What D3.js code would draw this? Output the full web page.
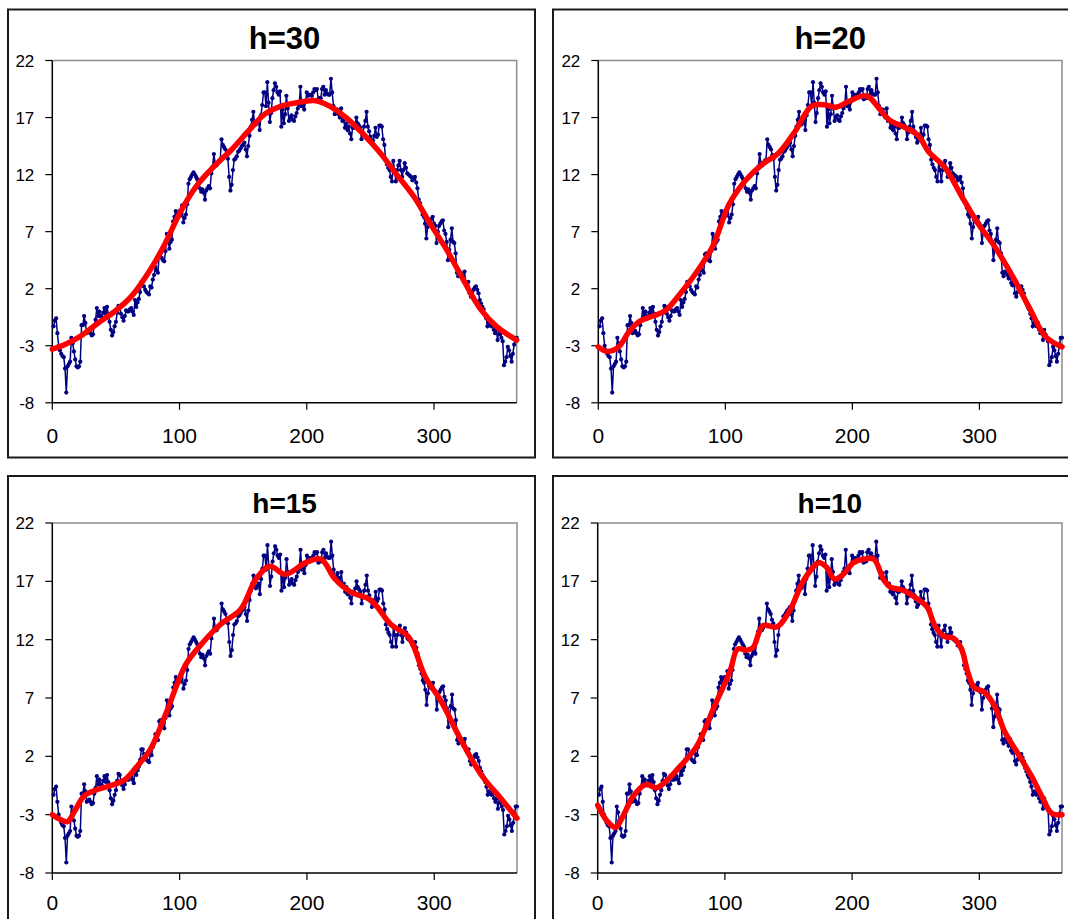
<!DOCTYPE html>
<meta charset="utf-8">
<style>
body { margin: 0; background: #fff; }
svg { display: block; font-family: Arial, 'Liberation Sans', sans-serif; }
.frame { fill: none; stroke: #1a1a1a; stroke-width: 2; }
.plot-border { fill: none; stroke: #8c8c8c; stroke-width: 1.5; }
.axis-line { stroke: #000; stroke-width: 1.5; }
.tick { stroke: #000; stroke-width: 1.2; }
.raw { fill: none; stroke: #000080; stroke-width: 1.5; }
.dot { fill: #000080; }
.smooth { fill: none; stroke: #ff0000; stroke-width: 5.5; stroke-linejoin: round; stroke-linecap: round; }
</style>
<body>
<script src="https://d3js.org/d3.v7.min.js"></script>
<script>
// daily values, day 1..365
var days = d3.range(1, 366)
var temps = [
 -1.3, -0.8, -0.6, -1.9, -3.0, -3.4, -3.7, -3.9, -4.0, -5.0,
 -7.1, -4.8, -4.6, -4.4, -2.3, -2.8, -3.5, -4.2, -4.8, -4.9,
 -4.8, -4.4, -1.2, -1.2, -0.4, -1.0, -1.9, -1.8, -1.7, -1.9,
 -2.1, -2.0, -1.2, -0.7, 0.3, -0.4, 0.0, -0.4, -0.5, -0.1,
 0.3, -0.2, 0.4, -0.2, -0.9, -1.6, -2.1, -1.8, -1.3, -0.9,
 -0.1, 0.5, 0.4, -0.2, -0.5, -0.8, -0.4, 0.1, 0.0, 0.0,
 0.2, 0.3, 0.0, -0.3, 1.0, 0.4, 0.8, 1.1, 1.7, 2.6,
 2.6, 2.2, 1.9, 1.7, 1.6, 1.5, 2.2, 2.1, 2.8, 3.2,
 3.9, 3.6, 3.4, 5.0, 5.1, 4.7, 4.5, 4.4, 5.3, 6.8,
 6.3, 5.5, 6.1, 6.3, 7.9, 8.3, 8.8, 8.2, 8.6, 8.8,
 8.4, 9.3, 7.8, 8.2, 8.5, 9.4, 11.2, 11.6, 11.8, 12.0,
 12.2, 12.0, 11.8, 11.6, 11.4, 10.8, 10.5, 10.7, 10.4, 9.8,
 10.6, 10.8, 11.0, 10.8, 12.1, 12.7, 13.8, 13.0, 12.8, 13.0,
 13.2, 13.3, 15.1, 14.6, 14.4, 14.2, 13.7, 13.4, 11.8, 10.6,
 11.1, 12.4, 13.3, 13.4, 13.6, 14.0, 14.1, 14.3, 14.5, 14.6,
 14.8, 14.2, 13.6, 14.5, 15.4, 16.2, 16.8, 17.5, 16.5, 16.4,
 16.6, 16.8, 15.9, 17.2, 18.1, 19.2, 19.2, 18.0, 20.1, 18.3,
 16.6, 17.4, 18.7, 19.4, 20.0, 19.7, 19.2, 19.0, 19.3, 16.2,
 17.7, 16.5, 17.3, 18.9, 17.8, 16.7, 17.0, 17.2, 16.8, 16.7,
 17.1, 17.4, 17.8, 18.1, 19.7, 18.0, 18.1, 17.7, 18.4, 19.2,
 18.9, 19.0, 19.0, 18.9, 19.2, 19.5, 19.4, 19.5, 18.6, 18.7,
 18.7, 19.5, 19.7, 19.0, 19.4, 19.1, 19.0, 19.0, 20.4, 19.2,
 18.0, 17.3, 17.4, 17.7, 17.3, 17.0, 17.8, 16.7, 16.8, 16.1,
 16.5, 15.9, 16.2, 15.6, 15.1, 16.1, 16.1, 16.4, 17.0, 16.5,
 16.3, 16.1, 15.1, 15.7, 16.2, 16.7, 17.5, 16.2, 15.8, 15.3,
 14.8, 15.0, 15.4, 16.1, 15.3, 15.5, 16.3, 16.3, 16.2, 15.1,
 14.6, 13.3, 12.9, 12.6, 12.4, 11.8, 11.4, 13.2, 12.4, 11.4,
 12.4, 12.8, 13.2, 12.4, 11.8, 12.4, 13.0, 12.6, 12.1, 12.0,
 11.9, 11.8, 11.5, 11.6, 11.8, 11.3, 10.8, 9.8, 9.5, 9.1,
 8.5, 8.3, 7.7, 6.4, 7.4, 8.0, 7.9, 8.1, 8.3, 7.7,
 7.5, 6.0, 7.0, 7.5, 7.7, 7.9, 8.0, 7.1, 6.8, 6.1,
 4.5, 5.4, 6.3, 7.3, 6.1, 6.0, 5.1, 3.4, 3.1, 3.5,
 3.4, 3.2, 2.9, 3.5, 2.5, 2.3, 2.6, 1.6, 1.3, 1.7,
 1.9, 2.1, 2.2, 1.9, 1.6, 1.0, 0.7, 0.4, 0.2, -0.2,
 -0.6, -1.3, -1.0, -1.2, -1.3, -1.0, -1.6, -1.9, -1.6, -2.5,
 -1.6, -2.0, -2.3, -2.6, -4.7, -4.4, -4.0, -3.1, -3.4, -3.9,
 -4.4, -3.7, -2.9, -2.3, -2.3
]

// smoothed curves: [day, value]
var smoothH30 = [[0,-3.3],[10,-2.9],[23,-2.1],[36,-1.0],[49,0.0],[62,1.3],[75,3.3],[88,5.8],[101,8.8],[114,11.1],[127,12.7],[141,14.2],[154,15.8],[167,17.3],[180,18.0],[192,18.3],[205,18.5],[210,18.4],[218,18.0],[231,17.0],[244,15.6],[257,14.0],[270,12.1],[284,10.1],[297,7.7],[310,5.4],[323,2.8],[336,0.3],[349,-1.3],[365,-2.5]]
var smoothH20 = [[0,-3.1],[7,-3.5],[16,-3.1],[24,-1.8],[32,-0.9],[43,-0.4],[53,0.1],[64,1.5],[77,3.4],[90,5.7],[103,9.4],[116,11.5],[129,12.9],[142,13.9],[155,15.8],[168,18.0],[179,18.1],[187,17.9],[197,18.4],[208,18.9],[213,18.8],[221,17.8],[229,16.8],[242,16.1],[252,15.4],[260,14.0],[273,12.6],[286,10.1],[299,7.7],[312,5.7],[326,3.1],[339,0.4],[352,-2.2],[365,-3.1]]
var smoothH15 = [[0,-3.0],[6,-3.4],[12,-3.6],[18,-2.6],[25,-1.4],[34,-0.9],[46,-0.5],[57,0.0],[67,1.2],[77,2.6],[89,5.6],[105,9.9],[117,11.6],[132,13.3],[148,14.6],[160,17.2],[171,18.3],[183,17.6],[199,18.6],[211,18.9],[222,17.2],[234,16.1],[250,15.4],[266,13.3],[280,12.2],[293,8.8],[305,6.8],[321,3.4],[337,0.4],[353,-1.7],[365,-3.3]]
var smoothH10 = [[0,-2.2],[7,-3.5],[14,-4.1],[20,-3.1],[28,-1.4],[38,-0.4],[46,-0.7],[54,-0.1],[64,1.05],[78,2.9],[91,6.1],[104,9.3],[110,11.2],[117,11.1],[122,11.3],[130,13.2],[141,13.1],[151,14.5],[162,17.1],[174,18.6],[180,18.2],[186,17.2],[193,17.6],[201,18.6],[209,18.9],[217,18.9],[225,17.1],[230,16.5],[241,16.2],[251,15.5],[259,14.8],[265,13.2],[272,12.3],[280,12.1],[286,11.2],[291,9.2],[296,7.9],[304,7.5],[312,6.3],[320,4.1],[330,2.3],[341,0.3],[349,-1.4],[357,-2.9],[365,-3.0]]

var yTicks = [-8, -3, 2, 7, 12, 17, 22]
var xTicks = [0, 100, 200, 300]

var panels = [
    {title: 'h=30', smooth: smoothH30, box: [8, 9.5, 527, 448], plot: [52.3, 60.5, 516.7, 402.8], titleY: 49, titleSize: 31, xLabY: 443},
    {title: 'h=20', smooth: smoothH20, box: [553, 9.5, 527, 448], plot: [598.3, 60.5, 1062, 402.8], titleY: 49, titleSize: 31, xLabY: 443},
    {title: 'h=15', smooth: smoothH15, box: [8, 476, 527, 460], plot: [52.3, 523, 517, 873], titleY: 513, titleSize: 28, xLabY: 910},
    {title: 'h=10', smooth: smoothH10, box: [553, 476, 527, 460], plot: [597.7, 523, 1062, 873], titleY: 513, titleSize: 28, xLabY: 910}
]

var svg = d3.select('body').append('svg')
    .attr('width', 1068)
    .attr('height', 919)

panels.forEach(function(p) {
    var g = svg.append('g')
    var l = p.plot[0], t = p.plot[1], r = p.plot[2], b = p.plot[3]

    g.append('rect').attr('class', 'frame')
        .attr('x', p.box[0]).attr('y', p.box[1])
        .attr('width', p.box[2]).attr('height', p.box[3])

    var x = d3.scaleLinear().domain([0, 365]).range([l, r])
    var y = d3.scaleLinear().domain([-8, 22]).range([b, t])

    // gray border on top and right of plot area
    g.append('path').attr('class', 'plot-border')
        .attr('d', 'M' + l + ',' + t + 'H' + r + 'V' + b)

    g.append('text')
        .attr('x', (l + r) / 2)
        .attr('y', p.titleY)
        .attr('text-anchor', 'middle')
        .style('font-weight', 'bold')
        .style('font-size', p.titleSize + 'px')
        .text(p.title)

    // y axis
    g.append('line').attr('class', 'axis-line')
        .attr('x1', l).attr('x2', l).attr('y1', t).attr('y2', b)
    g.selectAll('.ytick').data(yTicks).enter().append('line')
        .attr('class', 'tick')
        .attr('x1', l - 7).attr('x2', l)
        .attr('y1', d => y(d)).attr('y2', d => y(d))
    g.selectAll('.ylab').data(yTicks).enter().append('text')
        .attr('x', l - 18)
        .attr('y', d => y(d) + 6)
        .attr('text-anchor', 'end')
        .style('font-size', '17px')
        .text(d => d)

    // x axis
    g.append('line').attr('class', 'axis-line')
        .attr('x1', l).attr('x2', r).attr('y1', b).attr('y2', b)
    g.selectAll('.xtick').data(xTicks).enter().append('line')
        .attr('class', 'tick')
        .attr('x1', d => x(d)).attr('x2', d => x(d))
        .attr('y1', b).attr('y2', b + 7)
    g.selectAll('.xlab').data(xTicks).enter().append('text')
        .attr('x', d => x(d))
        .attr('y', p.xLabY)
        .attr('text-anchor', 'middle')
        .style('font-size', '21px')
        .text(d => d)

    // raw series
    var raw = d3.line().x((d, i) => x(days[i])).y(d => y(d))
    g.append('path').attr('class', 'raw').attr('d', raw(temps))
    g.selectAll('.dot').data(temps).enter().append('circle')
        .attr('class', 'dot')
        .attr('cx', (d, i) => x(days[i]))
        .attr('cy', d => y(d))
        .attr('r', 2.1)

    // smoothed series
    var sm = d3.line().x(d => x(d[0])).y(d => y(d[1])).curve(d3.curveCatmullRom.alpha(0.5))
    g.append('path').attr('class', 'smooth').attr('d', sm(p.smooth))
})
</script>
